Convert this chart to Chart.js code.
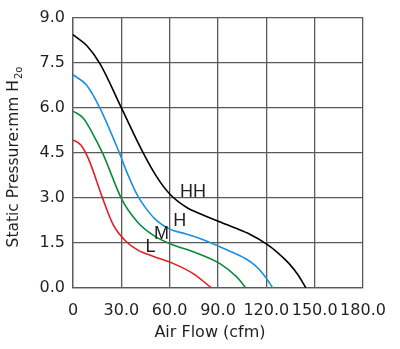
<!DOCTYPE html>
<html>
<head>
<meta charset="utf-8">
<title>P-Q curve</title>
<script src="https://cdn.jsdelivr.net/npm/chart.js@4.4.0/dist/chart.umd.min.js"></script>
<style>
  html, body { margin: 0; padding: 0; background: #fff; }
</style>
</head>
<body>
<canvas id="pqChart" width="400" height="349"></canvas>
<script>
// Curvas caudal / presión estática por velocidad
const flowHH  = [0, 8.5, 16.8, 30.2, 42.6, 52, 60.2, 70.6, 80, 99.5, 110, 120, 127, 134, 139.5, 144.6];
const pressHH = [8.43, 8.07, 7.46, 5.98, 4.6, 3.7, 3.12, 2.68, 2.45, 2.02, 1.78, 1.47, 1.18, 0.82, 0.45, 0];

const flowH  = [0, 8.5, 16.8, 28, 34, 40, 46, 52, 60, 70, 80, 95, 107, 113, 119, 124];
const pressH = [7.10, 6.75, 5.98, 4.6, 3.78, 3.08, 2.6, 2.24, 1.96, 1.8, 1.62, 1.28, 0.98, 0.75, 0.4, 0];

const flowM  = [0, 6.4, 12.6, 18.8, 30.2, 40, 50, 60.2, 75, 91.2, 101.6, 107.4];
const pressM = [5.89, 5.65, 5.1, 4.44, 2.96, 2.2, 1.75, 1.47, 1.2, 0.81, 0.37, 0];

const flowL  = [0, 5, 10, 18.3, 25, 32, 40, 50, 62, 74.6, 86];
const pressL = [4.93, 4.75, 4.25, 3.0, 2.1, 1.6, 1.27, 1.05, 0.82, 0.48, 0];

// Etiquetas de cada curva (posición en unidades de datos)
const curveNames  = ['HH', 'H', 'M', 'L'];
const curveLabelX = [74.5, 66.2, 55, 48.1];
const curveLabelY = [3.18, 2.24, 1.80, 1.38];

const xTickLabels = ['0', '30.0', '60.0', '90.0', '120.0', '150.0', '180.0'];
const yTickLabels = ['0.0', '1.5', '3.0', '4.5', '6.0', '7.5', '9.0'];

const TEXT_COLOR = '#231f20';
const GRID_COLOR = '#5a5a5a';
const TICK_FONT = { family: 'DejaVu Sans', size: 16 };

function toPoints(xs, ys) {
    return xs.map((x, i) => ({ x: x, y: ys[i] }));
}

function curve(label, xs, ys, color) {
    return {
        label: label,
        data: toPoints(xs, ys),
        borderColor: color,
        borderWidth: 1.6,
        showLine: true,
        pointRadius: 0,
        cubicInterpolationMode: 'monotone',
        fill: false
    };
}

// Títulos de ejes y nombres de curvas
const textPlugin = {
    id: 'pqText',
    afterDatasetsDraw(chart) {
        const ctx = chart.ctx;
        const xs = chart.scales.x;
        const ys = chart.scales.y;

        ctx.save();
        ctx.fillStyle = TEXT_COLOR;
        ctx.textAlign = 'center';
        ctx.textBaseline = 'middle';
        ctx.font = '18px "Liberation Sans"';
        curveNames.forEach((name, i) => {
            ctx.fillText(name, xs.getPixelForValue(curveLabelX[i]), ys.getPixelForValue(curveLabelY[i]));
        });

        // Eje X
        ctx.font = '16px "DejaVu Sans"';
        ctx.fillText('Air Flow (cfm)', 210, 333);

        // Eje Y con subíndices
        const main = 'Static Pressure:mm H';
        const sub = '2o';
        ctx.font = '15.5px "DejaVu Sans"';
        const wMain = ctx.measureText(main).width;
        ctx.font = '10px "DejaVu Sans"';
        const wSub = ctx.measureText(sub).width;
        const total = wMain + wSub + 1;

        ctx.translate(14, 157);
        ctx.rotate(-Math.PI / 2);
        ctx.textAlign = 'left';
        ctx.font = '15.5px "DejaVu Sans"';
        ctx.fillText(main, -total / 2, 0);
        ctx.font = '10px "DejaVu Sans"';
        ctx.fillText(sub, -total / 2 + wMain + 1, 5);
        ctx.restore();
    }
};

const chart = new Chart(document.getElementById('pqChart').getContext('2d'), {
    type: 'scatter',
    data: {
        datasets: [
            curve('HH', flowHH, pressHH, '#000000'),
            curve('H', flowH, pressH, '#1a8fe3'),
            curve('M', flowM, pressM, '#0b8a3b'),
            curve('L', flowL, pressL, '#e31e24')
        ]
    },
    options: {
        responsive: false,
        animation: false,
        layout: { padding: { top: 15, right: 37, left: 0, bottom: 0 } },
        plugins: {
            legend: { display: false },
            tooltip: { enabled: false }
        },
        scales: {
            x: {
                type: 'linear',
                min: 0,
                max: 180,
                afterFit: s => { s.height = 61; },
                grid: { color: GRID_COLOR, lineWidth: 1.3, drawTicks: false },
                border: { color: GRID_COLOR, width: 1.3 },
                ticks: {
                    stepSize: 30,
                    padding: 13,
                    color: TEXT_COLOR,
                    font: TICK_FONT,
                    maxRotation: 0,
                    autoSkip: false,
                    callback: (v, i) => xTickLabels[i]
                }
            },
            y: {
                type: 'linear',
                min: 0,
                max: 9,
                afterFit: s => { s.width = 73; },
                grid: { color: GRID_COLOR, lineWidth: 1.3, drawTicks: false },
                border: { color: GRID_COLOR, width: 1.3 },
                ticks: {
                    stepSize: 1.5,
                    padding: 8,
                    color: TEXT_COLOR,
                    font: TICK_FONT,
                    autoSkip: false,
                    callback: (v, i) => yTickLabels[i]
                }
            }
        }
    },
    plugins: [textPlugin]
});
</script>
</body>
</html>
